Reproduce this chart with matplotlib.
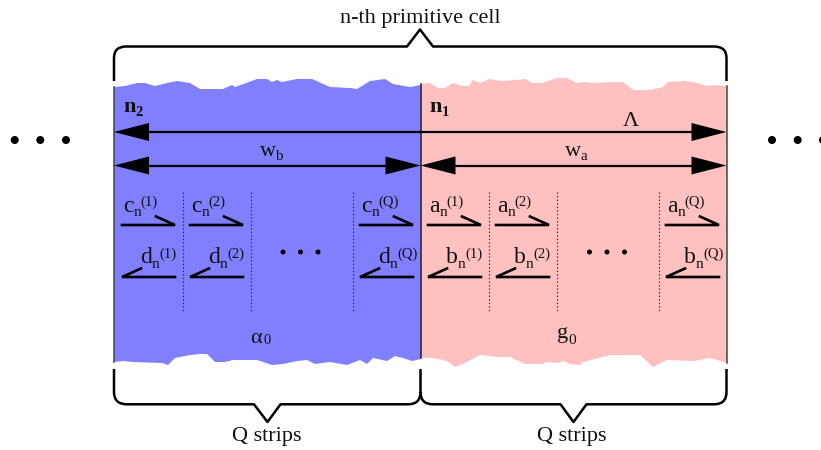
import matplotlib
matplotlib.use("Agg")
import matplotlib.pyplot as plt
from matplotlib.patches import PathPatch, Polygon, Circle
from matplotlib.path import Path

plt.rcParams['font.family'] = ['Liberation Serif', 'DejaVu Sans']

BLUE = "#8080ff"
PINK = "#ffc0c0"
INK = "#111111"

# torn edges of the two slabs, in picture pixels
blue_top = [(114, 87), (125, 86), (137, 83), (145, 83), (155, 86), (167, 83), (177, 81), (190, 83),
            (200, 89), (223, 89), (232, 85), (235, 87), (257, 79), (267, 79), (272, 82), (277, 80),
            (282, 82), (297, 79), (312, 79), (330, 87), (350, 88), (357, 89), (370, 81), (385, 79),
            (393, 84), (410, 87), (421, 85)]
pink_top = [(421, 84), (430, 83), (438, 88), (445, 88), (453, 83), (462, 86), (469, 86), (473, 80),
            (480, 83), (490, 79), (500, 81), (517, 80), (525, 79), (532, 83), (542, 83), (557, 78),
            (567, 78), (577, 83), (585, 82), (592, 83), (610, 82), (623, 82), (633, 90), (650, 90),
            (663, 87), (668, 82), (685, 81), (698, 83), (707, 86), (713, 85), (727, 86)]
blue_bottom = [(114, 362), (123, 361), (133, 362), (162, 363), (168, 365), (175, 358), (190, 355),
               (200, 354), (207, 354), (215, 362), (225, 362), (233, 360), (257, 360), (272, 365),
               (283, 364), (297, 361), (307, 360), (315, 364), (330, 362), (347, 365), (360, 360),
               (367, 364), (373, 358), (387, 361), (395, 356), (403, 358), (412, 361), (421, 359)]
pink_bottom = [(421, 358), (433, 358), (447, 361), (455, 367), (463, 364), (480, 355), (497, 357),
               (510, 357), (525, 364), (542, 364), (547, 362), (558, 363), (564, 361), (570, 364),
               (580, 365), (583, 362), (610, 355), (640, 355), (653, 367), (667, 360), (693, 361),
               (710, 358), (727, 363)]

columns_blue = [122, 190, 360]
columns_pink = [428, 496, 666]
dividers_blue = [182.5, 250.5, 352.5]
dividers_pink = [488.5, 556.5, 658.5]
orders = ["(1)", "(2)", "(Q)"]

fig = plt.figure(figsize=(8.21, 4.5), dpi=100)
ax = fig.add_axes([0, 0, 1, 1])
ax.set_xlim(0, 821)
ax.set_ylim(450, 0)
ax.axis("off")

#slabs
ax.add_patch(Polygon(blue_top + blue_bottom[::-1], closed=True, fc=BLUE, ec="none"))
ax.add_patch(Polygon(pink_top + pink_bottom[::-1], closed=True, fc=PINK, ec="none"))
ax.plot([114, 114], [87, 362], color="#444444", lw=1.1)
ax.plot([420.5, 420.5], [84, 358], color="#222222", lw=1.1)
ax.plot([726.5, 726.5], [86, 363], color="#444444", lw=1.1)


def label(x, y, s, size=16, **kw):
    ax.text(x, y, s, fontsize=size, color=INK, ha="left", va="baseline", **kw)


def arrow(x0, x1, y):
    # shaft and two filled heads, tips exactly on the ends
    ax.plot([x0 + 20, x1 - 20], [y, y], color="black", lw=1.6, solid_capstyle="butt", zorder=3)
    ax.add_patch(Polygon([(x0, y), (x0 + 35, y - 9), (x0 + 35, y + 9)], closed=True, fc="black", ec="none", zorder=3))
    ax.add_patch(Polygon([(x1, y), (x1 - 35, y - 9), (x1 - 35, y + 9)], closed=True, fc="black", ec="none", zorder=3))


def brace(points, codes):
    ax.add_patch(PathPatch(Path(points, codes), fc="none", ec="black", lw=1.8, capstyle="butt",
                           joinstyle="round", zorder=3))


def strips(starts, dividers, upper, lower):
    for x, order, name_up, name_low in zip(starts, orders, upper, lower):
        # forward wave
        ax.plot([x, x + 53, x + 34], [225, 225, 216.5], color="black", lw=1.9, solid_joinstyle="miter")
        label(x + 1, 212, name_up, size=17)
        label(x + 11.5, 216.5, "n", size=11)
        label(x + 18, 206, order, size=10.5)
        # backward wave
        ax.plot([x + 19, x, x + 53], [268.5, 277, 277], color="black", lw=1.9, solid_joinstyle="miter")
        label(x + 18, 263, name_low, size=17)
        label(x + 30, 268, "n", size=11)
        label(x + 37, 258, order, size=10.5)
    for x in dividers:
        ax.plot([x, x], [192, 311], color="#222222", lw=0.8, ls=(0, (1.2, 2)))


strips(columns_blue, dividers_blue, ["c"] * 3, ["d"] * 3)
strips(columns_pink, dividers_pink, ["a"] * 3, ["b"] * 3)

#dots
for cx, cy, r in [(283, 252, 2.5), (300.5, 252, 2.5), (318, 252, 2.5),
                  (589.5, 252, 2.5), (607, 252, 2.5), (624.5, 252, 2.5),
                  (14.7, 140, 4), (40.3, 140, 4), (66, 140, 4),
                  (772, 140, 4), (797.7, 140, 4), (823, 140, 4)]:
    ax.add_patch(Circle((cx, cy), r, fc="black", ec="none", zorder=3))

arrow(114, 726.5, 132)
arrow(114, 420.5, 165.5)
arrow(420.5, 726.5, 165.5)

M, L, Q = Path.MOVETO, Path.LINETO, Path.CURVE3
brace([(114, 81), (114, 58), (114, 46.5), (126, 46.5), (407, 46.5), (420, 29.5), (433, 46.5),
       (714, 46.5), (726.5, 46.5), (726.5, 58), (726.5, 81)],
      [M, L, Q, Q, L, L, L, L, Q, Q, L])
brace([(114, 369), (114, 392), (114, 404.3), (127, 404.3), (254, 404.3), (267.5, 422), (280.5, 404.3),
       (408, 404.3), (420.5, 404.3), (420.5, 392), (420.5, 369)],
      [M, L, Q, Q, L, L, L, L, Q, Q, L])
brace([(420.5, 392), (420.5, 404.3), (433, 404.3), (560.5, 404.3), (573.5, 422), (586.5, 404.3),
       (714, 404.3), (726.5, 404.3), (726.5, 392), (726.5, 369)],
      [M, Q, Q, L, L, L, L, Q, Q, L])

#texts
ax.text(420, 23.5, "n-th primitive cell", fontsize=16, color=INK, ha="center", va="baseline")
label(231.5, 441.5, "Q strips")
label(537, 441.5, "Q strips")
label(123, 111.5, "n", fontweight="bold")
label(135, 115.5, "2", size=10.5, fontweight="bold")
label(429.5, 111.5, "n", fontweight="bold")
label(441.5, 115.5, "1", size=10.5, fontweight="bold")
label(622.5, 126.5, "Λ")
label(259.5, 156, "w")
label(275, 160, "b", size=11)
label(565, 156, "w")
label(580.5, 160, "a", size=11)
label(250.5, 343, "α")
label(263.5, 344.5, "0", size=10.5)
label(557, 338, "g")
label(568, 344, "0", size=11)

plt.savefig("out.png", dpi=100)
